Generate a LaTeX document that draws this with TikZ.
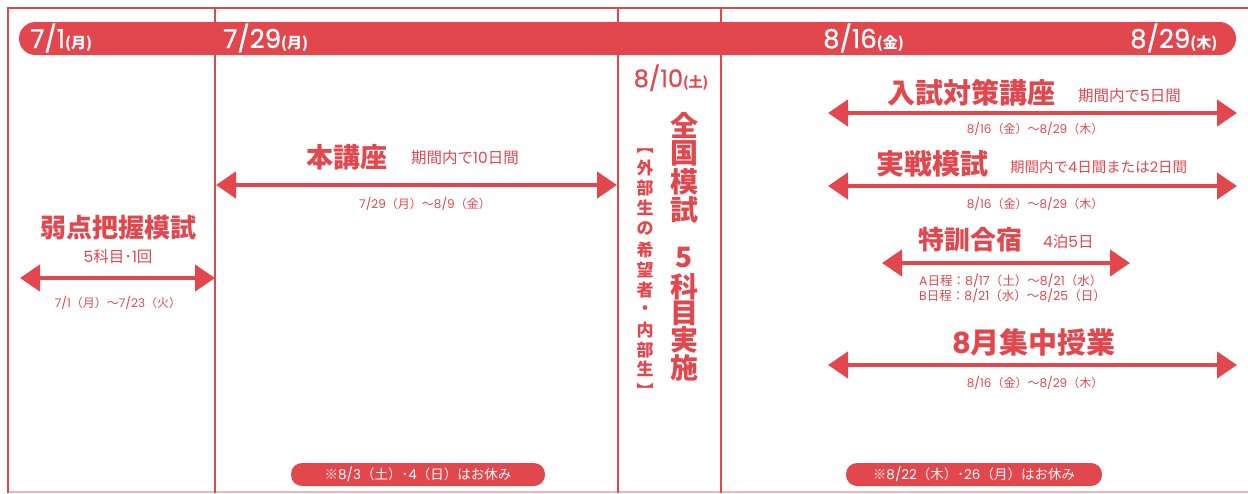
\documentclass[tikz,border=0pt]{standalone}
\usepackage{fontspec}
\setmainfont{Noto Sans CJK JP}
\newfontfamily\lat{Poppins}
\newfontfamily\latb[FakeBold=0.8]{Poppins}
\usetikzlibrary{arrows.meta}
\definecolor{rd}{HTML}{E3474E}
\definecolor{pk}{HTML}{F5B3B6}
\tikzset{
  x=1pt, y=-1pt,
  dbl/.style={draw=rd, line width=4.5pt, {Triangle[length=20pt,width=26pt]}-{Triangle[length=20pt,width=26pt]}},
  ttl/.style={text=rd, font=\fontsize{26}{28}\selectfont\bfseries, inner sep=0pt},
  note/.style={text=rd, font=\fontsize{15.5}{17}\selectfont, inner sep=0pt},
  small/.style={text=rd, font=\fontsize{12}{14}\selectfont, inner sep=0pt},
  bardate/.style={text=white, font=\fontsize{26}{28}\selectfont, inner sep=0pt, anchor=base west},
  pill/.style={fill=rd, rounded corners=11pt, text=white, font=\fontsize{13.5}{15}\selectfont, inner sep=0pt, minimum height=23pt},
  frame/.style={draw=rd, line width=2pt},
  vbig/.style={text=rd, font=\fontsize{28}{28}\selectfont\bfseries, inner sep=0pt},
  vsm/.style={text=rd, font=\fontsize{17}{17}\selectfont\bfseries, inner sep=0pt},
}
\newcommand{\wkd}[1]{{\fontsize{15}{16}\selectfont\bfseries(#1)}}
\newcommand{\pn}[1]{{\lat #1}}
\newcommand{\pb}[1]{{\latb #1}}
\begin{document}
\begin{tikzpicture}
\useasboundingbox (0,0) rectangle (1248,493);
% frame
\draw[pk, line width=1.5pt] (8,492) -- (1248,492);
\draw[frame] (8,493) -- (8,8) -- (1248,8);
\foreach \xx in {215,618,721} \draw[frame] (\xx,8) -- (\xx,493);
% bar
\fill[rd, rounded corners=16.5pt] (19,22) rectangle (1236,55);
\node[bardate] (d1) at (30,48) {\pb{7/1}\wkd{月}};
\node[bardate] (d2) at (223,48) {\pb{7/29}\wkd{月}};
\node[bardate] (d3) at (823,48) {\pb{8/16}\wkd{金}};
\node[bardate] (d4) at (1130,48) {\pb{8/29}\wkd{木}};

% left: 弱点把握模試
\node[ttl] (t1) at (118,228) {弱点把握模試};
\node[note] (t1s) at (118,257) {\pn{5}科目･\pn{1}回};
\coordinate (a1l) at (20,278); \coordinate (a1r) at (215,278);
\draw[dbl] (a1l) -- (a1r);
\node[small] (t1d) at (118,303) {\pn{7/1}（月）〜\pn{7/23}（火）};

% 本講座
\node[ttl, anchor=west, font=\fontsize{27}{29}\selectfont\bfseries] (t2) at (306,157) {本講座};
\node[note, anchor=west] (t2s) at (411,158) {期間内で\pn{10}日間};
\coordinate (a2l) at (216,185); \coordinate (a2r) at (617,185);
\draw[dbl] (a2l) -- (a2r);
\node[small] (t2d) at (425,204) {\pn{7/29}（月）〜\pn{8/9}（金）};

% 8/10 全国模試
\node[text=rd, font=\fontsize{24}{26}\selectfont, inner sep=0pt, anchor=base] (d5) at (671,87) {\pb{8/10}{\fontsize{14}{15}\selectfont\bfseries(土)}};
\foreach \ch/\yy [count=\i] in {全/125,国/153,模/182,試/210,5/258,科/287,目/313,実/340,施/368}
  \node[vbig] (vb\i) at (684,\yy) {\ch};
\foreach \ch/\yy [count=\i] in {︻/151,外/168,部/188,生/208,の/229,希/250,望/270,者/290,・/310,内/330,部/350,生/369,︼/390}
  \node[vsm] (vs\i) at (645,\yy) {\ch};

% 入試対策講座
\node[ttl, anchor=west, font=\fontsize{28}{30}\selectfont\bfseries] (t3) at (887,93) {入試対策講座};
\node[note, anchor=west] (t3s) at (1078,96) {期間内で\pn{5}日間};
\coordinate (a3l) at (828,113); \coordinate (a3r) at (1237,113);
\draw[dbl] (a3l) -- (a3r);
\node[small] (t3d) at (1035,129) {\pn{8/16}（金）〜\pn{8/29}（木）};

% 実戦模試
\node[ttl, anchor=west, font=\fontsize{28}{30}\selectfont\bfseries] (t4) at (876,164) {実戦模試};
\node[note, anchor=west, font=\fontsize{14.5}{16}\selectfont] (t4s) at (1010,167) {期間内で\pn{4}日間または\pn{2}日間};
\coordinate (a4l) at (828,186); \coordinate (a4r) at (1237,186);
\draw[dbl] (a4l) -- (a4r);
\node[small] (t4d) at (1035,204) {\pn{8/16}（金）〜\pn{8/29}（木）};

% 特訓合宿
\node[ttl, anchor=west] (t5) at (918,240) {特訓合宿};
\node[note, anchor=west] (t5s) at (1043,242) {\pn{4}泊\pn{5}日};
\coordinate (a5l) at (882,263); \coordinate (a5r) at (1130,263);
\draw[dbl] (a5l) -- (a5r);
\node[small, anchor=west, font=\fontsize{12.5}{14}\selectfont] (t5a) at (919,281) {\pn{A}日程：\pn{8/17}（土）〜\pn{8/21}（水）};
\node[small, anchor=west, font=\fontsize{12.5}{14}\selectfont] (t5b) at (919,296) {\pn{B}日程：\pn{8/21}（水）〜\pn{8/25}（日）};

% 8月集中授業
\node[ttl, font=\fontsize{29}{31}\selectfont\bfseries] (t6) at (1034,342) {\pn{8}月集中授業};
\coordinate (a6l) at (828,365); \coordinate (a6r) at (1237,365);
\draw[dbl] (a6l) -- (a6r);
\node[small] (t6d) at (1035,383) {\pn{8/16}（金）〜\pn{8/29}（木）};

% pills
\node[pill, minimum width=254pt] (p1) at (418,474.5) {※\pn{8/3}（土）･\pn{4}（日）はお休み};
\node[pill, minimum width=256pt] (p2) at (974,474.5) {※\pn{8/22}（木）･\pn{26}（月）はお休み};
\end{tikzpicture}
\end{document}
